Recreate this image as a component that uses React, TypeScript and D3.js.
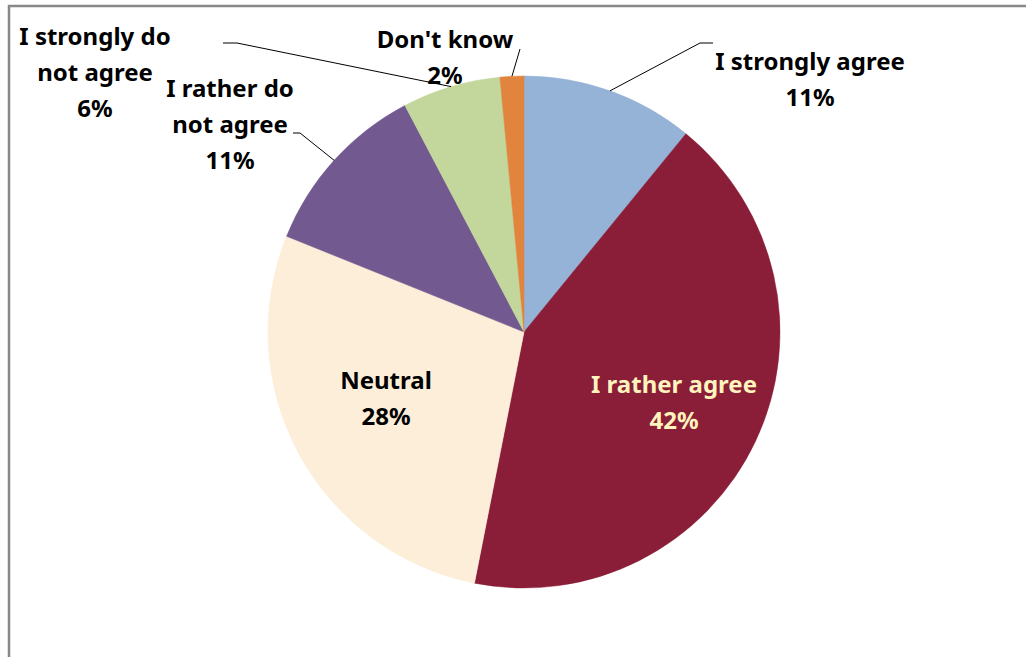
import { useMemo } from "react";
import * as d3 from "d3";

const categories = [
  "I strongly agree",
  "I rather agree",
  "Neutral",
  "I rather do not agree",
  "I strongly do not agree",
  "Don't know",
];
const values = [10.9, 42.2, 28.0, 11.2, 6.2, 1.5];
const labelLines = [
  ["I strongly agree"],
  ["I rather agree"],
  ["Neutral"],
  ["I rather do", "not agree"],
  ["I strongly do", "not agree"],
  ["Don't know"],
];
const colors = ["#95B3D7", "#8A1D37", "#FDEEDA", "#72598F", "#C3D69B", "#E0843E"];

// label anchor (centre x, first baseline) and leader elbow/end, relative to the page
const labelLayout = [
  { x: 810, y: 70, color: "#000", leader: [[700, 43], [713, 43]] },
  { x: 674, y: 393, color: "#FFF3BE", leader: null },
  { x: 386, y: 389, color: "#000", leader: null },
  { x: 230, y: 97, color: "#000", leader: [[300, 133], [293, 133]] },
  { x: 95, y: 45, color: "#000", leader: [[237, 43], [223, 43]] },
  { x: 445, y: 48, color: "#000", leader: [[520, 49]] },
];

export default function App() {
  const width = 1026;
  const height = 657;
  const cx = 524;
  const cy = 332;
  const radius = 256;
  const lineH = 36;

  const arcs = useMemo(() => {
    const pie = d3.pie<number>().value((d) => d).sort(null);
    return pie(values);
  }, []);
  const arcGen = d3.arc<d3.PieArcDatum<number>>().innerRadius(0).outerRadius(radius);
  const total = d3.sum(values);

  return (
    <div style={{ position: "absolute", left: 0, top: 0 }}>
      <svg width={width} height={height} style={{ display: "block", background: "#fff" }}>
        <rect x={9} y={6} width={1200} height={800} fill="none" stroke="#888" strokeWidth={2.5} />
        <g transform={`translate(${cx},${cy})`}>
          {arcs.map((a, i) => (
            <path key={i} d={arcGen(a) || ""} fill={colors[i]} stroke={colors[i]} strokeWidth={0.5} />
          ))}
        </g>
        {arcs.map((a, i) => {
          const lay = labelLayout[i];
          if (!lay.leader) return null;
          const mid = (a.startAngle + a.endAngle) / 2;
          const sx = cx + radius * Math.sin(mid);
          const sy = cy - radius * Math.cos(mid);
          const pts: [number, number][] = [[sx, sy], ...(lay.leader as [number, number][])];
          return (
            <path key={i} d={d3.line()(pts) || ""} fill="none" stroke="#000" strokeWidth={1} />
          );
        })}
        {arcs.map((a, i) => {
          const lay = labelLayout[i];
          const lines = [...labelLines[i], `${Math.round((values[i] / total) * 100)}%`];
          return (
            <text
              key={i}
              textAnchor="middle"
              fontFamily="'Noto Sans', sans-serif"
              fontWeight="bold"
              fontSize={24}
              fill={lay.color}
            >
              {lines.map((t, j) => (
                <tspan key={j} x={lay.x} y={lay.y + j * lineH}>
                  {t}
                </tspan>
              ))}
            </text>
          );
        })}
      </svg>
    </div>
  );
}
